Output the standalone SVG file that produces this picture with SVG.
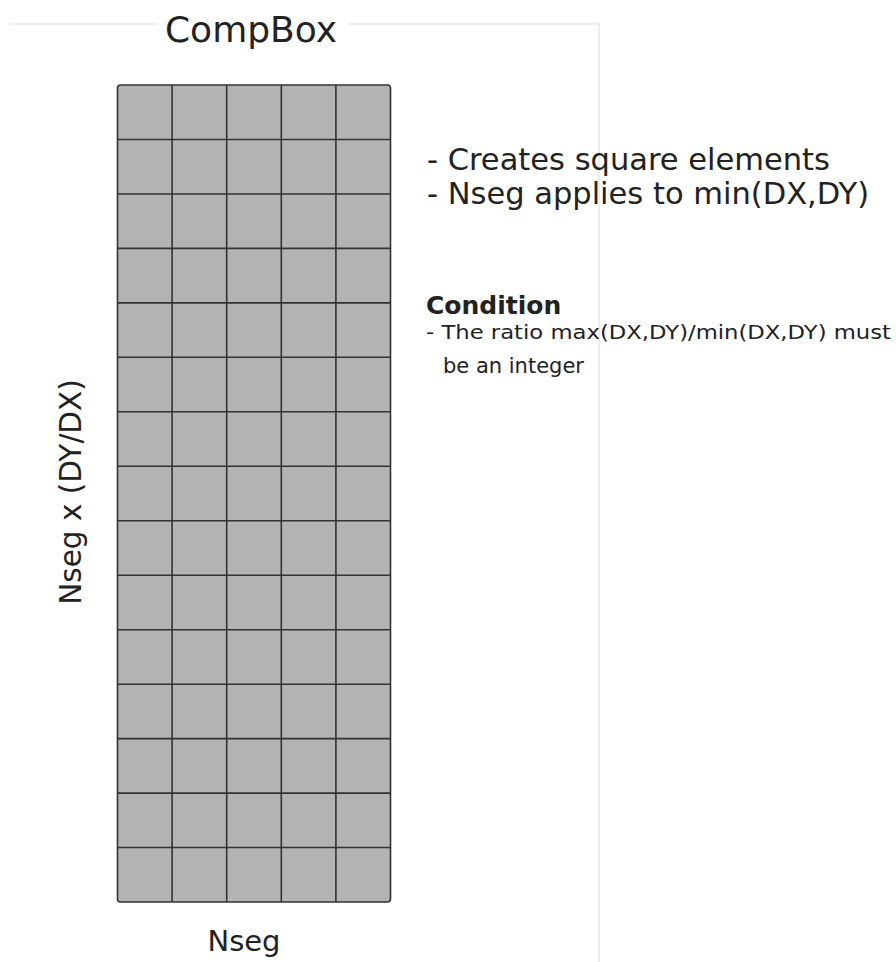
<svg xmlns="http://www.w3.org/2000/svg" width="896" height="962" viewBox="0 0 896 962">
<style>
.t{font-family:"DejaVu Sans","Verdana",sans-serif;fill:#222}
.frame{stroke:#e8e8e8;stroke-width:1.5;fill:none}
.cell{fill:#b3b3b3;stroke:none}
.gl{stroke:#333;stroke-width:1.6;fill:none}
</style>
<rect width="896" height="962" fill="#fff"/>
<g id="frame">
<path class="frame" d="M9 24 H157 M348 24 H599 V962"/>
</g>
<g id="title"><text class="t" x="251" y="42" font-size="36" text-anchor="middle">CompBox</text></g>
<g id="grid">
<rect class="cell" x="117.5" y="85" width="273" height="817" rx="3"/>
<path class="gl" d="M172.1 85V902 M226.7 85V902 M281.3 85V902 M335.9 85V902
M117.5 139.5H390.5 M117.5 194H390.5 M117.5 248.4H390.5 M117.5 302.9H390.5 M117.5 357.3H390.5 M117.5 411.8H390.5 M117.5 466.3H390.5 M117.5 520.7H390.5 M117.5 575.2H390.5 M117.5 629.7H390.5 M117.5 684.2H390.5 M117.5 738.6H390.5 M117.5 793.1H390.5 M117.5 847.5H390.5"/>
<rect class="gl" x="117.5" y="85" width="273" height="817" rx="3"/>
</g>
<g id="label-bottom"><text class="t" x="244" y="951" font-size="29" text-anchor="middle">Nseg</text></g>
<g id="label-left"><text class="t" transform="translate(81 492) rotate(-90)" font-size="29.5" text-anchor="middle">Nseg x (DY/DX)</text></g>
<g id="notes">
<text class="t" x="427" y="170" font-size="30.5">- Creates square elements</text>
<text class="t" x="427" y="204" font-size="30.5">- Nseg applies to min(DX,DY)</text>
<text class="t" x="426" y="314" font-size="25" font-weight="bold" fill="#111">Condition</text>
<text class="t" x="426" y="339" font-size="19.5" textLength="465" lengthAdjust="spacingAndGlyphs">- The ratio max(DX,DY)/min(DX,DY) must</text>
<text class="t" x="443" y="373" font-size="21">be an integer</text>
</g>
</svg>
